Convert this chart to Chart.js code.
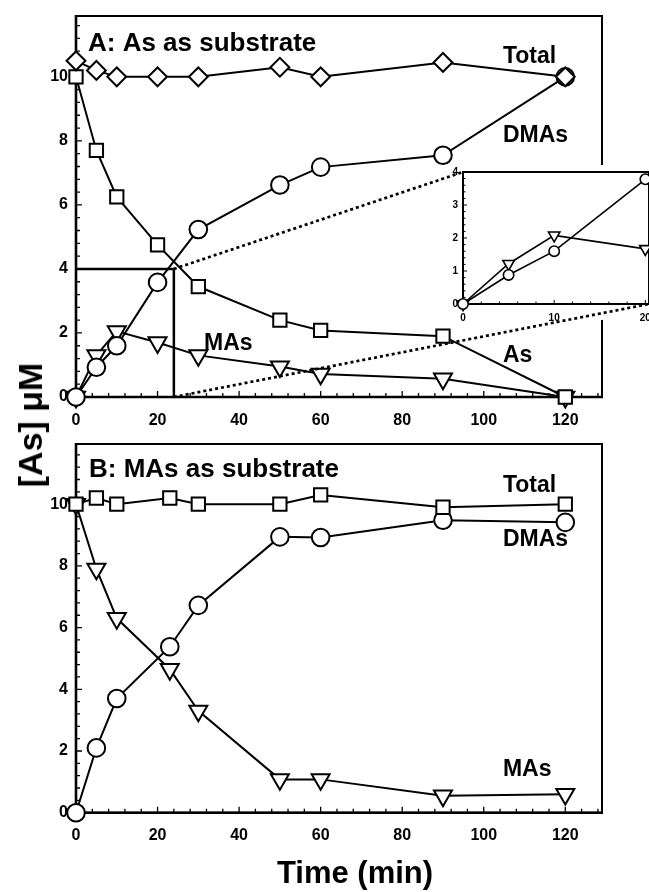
<!DOCTYPE html>
<html>
<head>
<meta charset="utf-8">
<script src="https://cdn.jsdelivr.net/npm/chart.js@4.4.1/dist/chart.umd.min.js"></script>
<style>
  body { margin: 0; width: 649px; height: 892px; overflow: hidden; background: #fff; position: relative; font-family: "Liberation Sans", Arial, sans-serif; }
  canvas { position: absolute; }
  #chartA { left: 0; top: 0; }
  #chartInset { left: 150px; top: 150px; }
  #chartB { left: 0; top: 420px; }
  .axisTitle { position: absolute; font-weight: bold; white-space: nowrap; color: #000; line-height: 1; }
  #yTitle { left: 30px; top: 425px; font-size: 34px; transform: translate(-50%, -50%) rotate(-90deg); }
  #xTitle { left: 355px; top: 857px; font-size: 31px; transform: translateX(-50%); }
</style>
</head>
<body>
<canvas id="chartA" width="649" height="432"></canvas>
<canvas id="chartInset" width="499" height="260"></canvas>
<canvas id="chartB" width="649" height="472"></canvas>
<div class="axisTitle" id="yTitle">[As] μM</div>
<div class="axisTitle" id="xTitle">Time (min)</div>
<script>
const font = 'Liberation Sans, Arial, Helvetica, sans-serif';

// A: As as substrate
const timeA = [0, 5, 10, 20, 30, 50, 60, 90, 120];
const totalA = [10.5, 10.2, 10.0, 10.0, 10.0, 10.3, 10.0, 10.45, 10.0];
const asA = [10.0, 7.7, 6.25, 4.75, 3.45, 2.4, 2.08, 1.9, 0];
const dmasA = [0, 0.93, 1.6, 3.58, 5.23, 6.62, 7.18, 7.55, 10.0];
const masA = [0, 1.3, 2.05, 1.7, 1.3, 0.95, 0.72, 0.57, 0];

// inset of A (first 20 min)
const timeInset = [0, 5, 10, 20];
const dmasInset = [0, 0.88, 1.6, 3.78];
const masInset = [0, 1.22, 2.08, 1.67];

// B: MAs as substrate
const timeB = [0, 5, 10, 23, 30, 50, 60, 90, 120];
const totalB = [10.0, 10.2, 10.0, 10.2, 10.0, 10.0, 10.3, 9.9, 10.0];
const dmasB = [0, 2.1, 3.7, 5.38, 6.72, 8.94, 8.92, 9.48, 9.41];
const masB = [10.0, 7.9, 6.3, 4.65, 3.3, 1.08, 1.08, 0.55, 0.6];

const xTicks = [0, 20, 40, 60, 80, 100, 120];
const yTicks = [0, 2, 4, 6, 8, 10];
const insetXTicks = [0, 10, 20];
const insetYTicks = [0, 1, 2, 3, 4];
const zoomBox = [24, 4]; // time, conc. corner of the region blown up in the inset

var chartA;
var chartInset;
var chartB;

function series(label, xs, ys, style, r, w) {
    return {
        label: label,
        data: xs.map((x, i) => ({x: x, y: ys[i]})),
        borderColor: '#000',
        borderWidth: w,
        backgroundColor: '#fff',
        pointStyle: style,
        pointRadius: r,
        pointBorderWidth: w,
        pointBackgroundColor: '#fff',
        pointBorderColor: '#000',
        pointRotation: style === 'triangle' ? 180 : 0,
        tension: 0,
        clip: false
    };
}

function scale(axis, min, max, ticks, size, pad, thick) {
    return {
        type: 'linear',
        min: min,
        max: max,
        grid: { display: false, drawTicks: false },
        border: { display: false },
        afterBuildTicks: s => { s.ticks = ticks.map(v => ({value: v})); },
        ticks: {
            font: { family: font, size: size, weight: 'bold' },
            color: '#000',
            padding: pad,
            maxRotation: 0,
            autoSkip: false
        },
        afterFit: s => {
            if (axis === 'x') s.height = thick; else s.width = thick;
            s.paddingLeft = 0; s.paddingRight = 0; s.paddingTop = 0; s.paddingBottom = 0;
        }
    };
}

// box round the plot area with inward major and minor ticks
function framePlugin(o) {
    return {
        id: 'frame',
        beforeDatasetsDraw(chart) {
            const {ctx, chartArea: a, scales: {x, y}} = chart;
            const isMajor = (s, v) => s.ticks.some(t => Math.abs(t.value - v) < 1e-6);
            ctx.save();
            ctx.strokeStyle = '#000';
            ctx.lineWidth = o.tick;
            ctx.beginPath();
            for (let i = 0; i * o.xMinor <= x.max + 1e-6; i++) {
                const v = i * o.xMinor;
                const px = x.getPixelForValue(v);
                ctx.moveTo(px, a.bottom);
                ctx.lineTo(px, a.bottom - (isMajor(x, v) ? o.major : o.minor));
            }
            for (let i = 0; i * o.yMinor <= y.max + 1e-6; i++) {
                const v = i * o.yMinor;
                const py = y.getPixelForValue(v);
                ctx.moveTo(a.left, py);
                ctx.lineTo(a.left + (isMajor(y, v) ? o.major : o.minor), py);
            }
            ctx.stroke();
            ctx.lineWidth = o.box;
            ctx.strokeRect(a.left, a.top, a.right - a.left, a.bottom - a.top);
            ctx.lineWidth = o.axis;
            ctx.beginPath();
            ctx.moveTo(a.left, a.top - o.box / 2);
            ctx.lineTo(a.left, a.bottom);
            ctx.lineTo(a.right + o.box / 2, a.bottom);
            ctx.stroke();
            ctx.restore();
        }
    };
}

// series names and panel titles, placed in data units
function notesPlugin(items) {
    return {
        id: 'notes',
        afterDatasetsDraw(chart) {
            const {ctx, scales: {x, y}} = chart;
            ctx.save();
            ctx.fillStyle = '#000';
            ctx.textBaseline = 'alphabetic';
            ctx.textAlign = 'left';
            items.forEach(n => {
                ctx.font = 'bold ' + n.size + 'px ' + font;
                ctx.fillText(n.text, x.getPixelForValue(n.x), y.getPixelForValue(n.y));
            });
            ctx.restore();
        }
    };
}

const zoomBoxPlugin = {
    id: 'zoomBox',
    beforeDatasetsDraw(chart) {
        const {ctx, scales: {x, y}} = chart;
        ctx.save();
        ctx.strokeStyle = '#000';
        ctx.lineWidth = 2.5;
        ctx.beginPath();
        ctx.moveTo(x.getPixelForValue(0), y.getPixelForValue(zoomBox[1]));
        ctx.lineTo(x.getPixelForValue(zoomBox[0]), y.getPixelForValue(zoomBox[1]));
        ctx.lineTo(x.getPixelForValue(zoomBox[0]), y.getPixelForValue(0));
        ctx.stroke();
        ctx.restore();
    }
};

// white card behind the inset, and dotted leaders back to the box in A
const insetPlugin = {
    id: 'insetCard',
    beforeDraw(chart) {
        const {ctx, chartArea: a} = chart;
        ctx.save();
        ctx.fillStyle = '#fff';
        ctx.fillRect(a.left - 14, a.top - 7, a.right - a.left + 14, a.bottom - a.top + 23);
        ctx.restore();
    },
    afterDraw(chart) {
        const {ctx, chartArea: a} = chart;
        const offX = chart.canvas.offsetLeft, offY = chart.canvas.offsetTop;
        const sx = chartA.scales.x, sy = chartA.scales.y;
        ctx.save();
        ctx.strokeStyle = '#000';
        ctx.lineWidth = 2.7;
        ctx.setLineDash([3, 3]);
        ctx.beginPath();
        ctx.moveTo(sx.getPixelForValue(zoomBox[0]) - offX, sy.getPixelForValue(zoomBox[1]) - offY);
        ctx.lineTo(a.left, a.top);
        ctx.moveTo(sx.getPixelForValue(zoomBox[0]) - offX, sy.getPixelForValue(0) - offY);
        ctx.lineTo(a.right, a.bottom);
        ctx.stroke();
        ctx.restore();
    }
};

const baseOptions = (padding, scales) => ({
    responsive: false,
    animation: false,
    events: [],
    layout: { padding: padding, autoPadding: false },
    plugins: { legend: { display: false }, tooltip: { enabled: false } },
    scales: scales
});

function createChartA() {
    const ctx = document.getElementById('chartA').getContext('2d');
    chartA = new Chart(ctx, {
        type: 'line',
        data: {
            datasets: [
                series('Total', timeA, totalA, 'rectRot', 9.4, 2),
                series('As', timeA, asA, 'rect', 9.4, 2),
                series('DMAs', timeA, dmasA, 'circle', 8.8, 2),
                series('MAs', timeA, masA, 'triangle', 10.4, 2)
            ]
        },
        options: baseOptions({left: 36, top: 16, right: 47, bottom: 3}, {
            x: scale('x', 0, 129, xTicks, 16, 13.5, 32),
            y: scale('y', 0, 11.9, yTicks, 16, 8, 40)
        }),
        plugins: [
            framePlugin({xMinor: 4, yMinor: 0.4, major: 6, minor: 4, tick: 1.3, box: 2, axis: 2.6}),
            zoomBoxPlugin,
            notesPlugin([
                {text: 'A: As as substrate', x: 2.94, y: 10.81, size: 26},
                {text: 'Total', x: 104.7, y: 10.43, size: 23},
                {text: 'DMAs', x: 104.7, y: 7.96, size: 23},
                {text: 'As', x: 104.7, y: 1.09, size: 23},
                {text: 'MAs', x: 31.4, y: 1.47, size: 23}
            ])
        ]
    });
}

function createInsetChart() {
    const ctx = document.getElementById('chartInset').getContext('2d');
    chartInset = new Chart(ctx, {
        type: 'line',
        data: {
            datasets: [
                series('DMAs', timeInset, dmasInset, 'circle', 5.2, 1.6),
                series('MAs', timeInset, masInset, 'triangle', 6.6, 1.6)
            ]
        },
        options: baseOptions({left: 300, top: 22, right: 0, bottom: 84}, {
            x: scale('x', 0, 20.4, insetXTicks, 10, 8, 22),
            y: scale('y', 0, 4, insetYTicks, 10, 5, 13)
        }),
        plugins: [
            insetPlugin,
            framePlugin({xMinor: 2, yMinor: 0.2, major: 4, minor: 2.5, tick: 1, box: 2, axis: 2})
        ]
    });
}

function createChartB() {
    const ctx = document.getElementById('chartB').getContext('2d');
    chartB = new Chart(ctx, {
        type: 'line',
        data: {
            datasets: [
                series('Total', timeB, totalB, 'rect', 9.4, 2),
                series('DMAs', timeB, dmasB, 'circle', 8.8, 2),
                series('MAs', timeB, masB, 'triangle', 10.4, 2)
            ]
        },
        options: baseOptions({left: 36, top: 24, right: 47, bottom: 47.3}, {
            x: scale('x', 0, 129, xTicks, 16, 13.5, 32),
            y: scale('y', 0, 11.95, yTicks, 16, 8, 40)
        }),
        plugins: [
            framePlugin({xMinor: 4, yMinor: 0.4, major: 6, minor: 4, tick: 1.3, box: 2, axis: 2.6}),
            notesPlugin([
                {text: 'B: MAs as substrate', x: 3.19, y: 10.88, size: 26},
                {text: 'Total', x: 104.7, y: 10.4, size: 23},
                {text: 'DMAs', x: 104.7, y: 8.65, size: 23},
                {text: 'MAs', x: 104.7, y: 1.19, size: 23}
            ])
        ]
    });
}

createChartA();
createInsetChart();
createChartB();
</script>
</body>
</html>
